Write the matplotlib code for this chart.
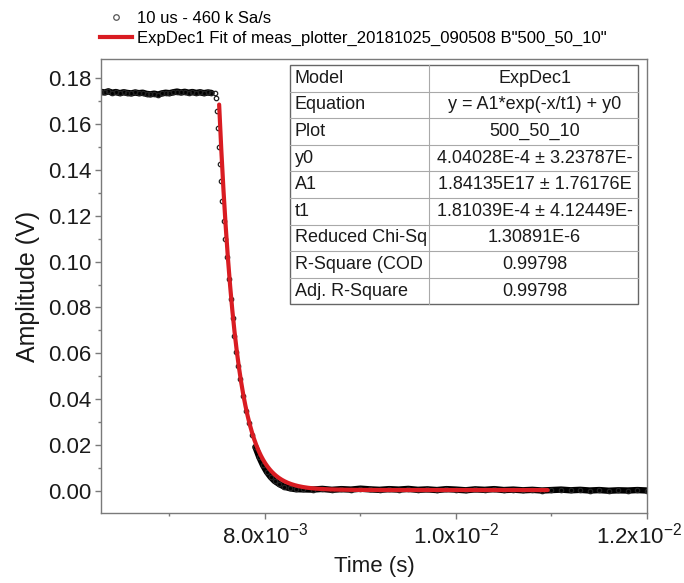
import numpy as np
import matplotlib
matplotlib.use("Agg")
import matplotlib.pyplot as plt
from matplotlib.lines import Line2D
from matplotlib.ticker import FixedLocator, FixedFormatter
from matplotlib.transforms import ScaledTranslation

plt.rcParams["font.family"] = ["Liberation Sans", "DejaVu Sans"]
plt.rcParams["mathtext.fontset"] = "custom"
plt.rcParams["mathtext.rm"] = "Liberation Sans"
plt.rcParams["mathtext.default"] = "regular"

# ---- measured pulse (time in ms, amplitude in V) ----
time_ms = [
    6.28, 6.32, 6.36, 6.40, 6.44, 6.48, 6.52, 6.56, 6.60, 6.64, 6.68, 6.72,
    6.76, 6.80, 6.84, 6.88, 6.92, 6.96, 7.00, 7.04, 7.08, 7.12, 7.16, 7.20,
    7.24, 7.28, 7.32, 7.36, 7.40, 7.44, 7.48,
    7.49, 7.50, 7.51, 7.52, 7.53, 7.54, 7.555, 7.57, 7.585, 7.60, 7.62, 7.64,
    7.66, 7.68, 7.70, 7.72, 7.74, 7.77, 7.80, 7.83, 7.86, 7.90, 7.94, 7.98,
    8.02, 8.06, 8.10, 8.15, 8.20, 8.26, 8.32,
    8.40, 8.50, 8.60, 8.70, 8.80, 8.90, 9.00, 9.10, 9.20, 9.30, 9.40, 9.50,
    9.60, 9.70, 9.80, 9.90, 10.00, 10.10, 10.20, 10.30, 10.40, 10.50, 10.60,
    10.70, 10.80, 10.90, 11.00, 11.10, 11.20, 11.30, 11.40, 11.50, 11.60,
    11.70, 11.80, 11.90, 12.00,
]
amplitude = [
    0.1740, 0.1737, 0.1742, 0.1736, 0.1739, 0.1734, 0.1738, 0.1735, 0.1733,
    0.1737, 0.1734, 0.1736, 0.1731, 0.1729, 0.1732, 0.1728, 0.1733, 0.1736,
    0.1734, 0.1738, 0.1741, 0.1737, 0.1740, 0.1736, 0.1739, 0.1735, 0.1738,
    0.1734, 0.1737, 0.1735, 0.1736,
    0.1712, 0.1655, 0.1582, 0.1498, 0.1425, 0.1352, 0.1262, 0.1175, 0.1098,
    0.1020, 0.0925, 0.0835, 0.0752, 0.0676, 0.0606, 0.0546, 0.0488, 0.0415,
    0.0350, 0.0295, 0.0245, 0.0192, 0.0148, 0.0112, 0.0083, 0.0061, 0.0044,
    0.0030, 0.0019, 0.0012, 0.0008,
    0.0007, 0.0006, 0.0009, 0.0005, 0.0008, 0.0006, 0.0010, 0.0007, 0.0005,
    0.0008, 0.0006, 0.0009, 0.0005, 0.0007, 0.0004, 0.0008, 0.0006, 0.0003,
    0.0007, 0.0005, 0.0008, 0.0004, 0.0006, 0.0003, 0.0005, 0.0002, 0.0004,
    0.0006, 0.0003, 0.0005, 0.0002, 0.0004, 0.0001, 0.0003, 0.0002, 0.0004,
    0.0002,
]

# ---- ExpDec1 fit parameters ----
fit_y0 = 4.04028e-4
fit_A1 = 1.84135e17
fit_t1 = 1.81039e-4
fit_range_s = (7.52e-3, 10.96e-3)

# ---- table content ----
table_keys = ["Model", "Equation", "Plot", "y0", "A1", "t1",
              "Reduced Chi-Sq", "R-Square (COD", "Adj. R-Square"]
table_values = ["ExpDec1", "y = A1*exp(-x/t1) + y0", "500_50_10",
                "4.04028E-4 \u00b1 3.23787E-", "1.84135E17 \u00b1 1.76176E",
                "1.81039E-4 \u00b1 4.12449E-", "1.30891E-6", "0.99798", "0.99798"]

x_major = [8.0e-3, 1.0e-2, 1.2e-2]
x_major_labels = ["8.0x10$^{-3}$", "1.0x10$^{-2}$", "1.2x10$^{-2}$"]
x_minor = [7.0e-3, 9.0e-3, 1.1e-2]
y_major = [0.00, 0.02, 0.04, 0.06, 0.08, 0.10, 0.12, 0.14, 0.16, 0.18]
y_minor = [0.01, 0.03, 0.05, 0.07, 0.09, 0.11, 0.13, 0.15, 0.17]

data_label = "10 us - 460 k Sa/s"
fit_label = 'ExpDec1 Fit of meas_plotter_20181025_090508 B"500_50_10"'

# ---------------------------------------------------------------
W, H = 684, 583
fig = plt.figure(figsize=(W / 100, H / 100), dpi=100)
ax = fig.add_axes([101 / W, 1 - 513 / H, (647 - 101) / W, (513 - 59) / H])

t = np.array(time_ms) * 1e-3
a = np.array(amplitude)

# dense band where the signal is slow, scattered circles on the steep edge
slope = np.abs(np.gradient(a, np.array(time_ms)))
band = np.ma.masked_where(slope > 0.15, a)
ax.plot(t, band, color="black", lw=4.6, solid_capstyle="round", zorder=2)
ax.plot(t, a, linestyle="none", marker="o", ms=3.2, mfc="none",
        mec="#222222", mew=0.9, zorder=2)

tf = np.linspace(fit_range_s[0], fit_range_s[1], 600)
yf = fit_A1 * np.exp(-tf / fit_t1) + fit_y0
ax.plot(tf, yf, color="#d91c22", lw=3.0, zorder=3, solid_capstyle="round")

ax.set_xlim(6.283e-3, 12.0e-3)
ax.set_ylim(-0.0096, 0.1883)

ax.xaxis.set_major_locator(FixedLocator(x_major))
ax.xaxis.set_major_formatter(FixedFormatter(x_major_labels))
ax.xaxis.set_minor_locator(FixedLocator(x_minor))
ax.yaxis.set_major_locator(FixedLocator(y_major))
ax.yaxis.set_major_formatter(FixedFormatter([f"{v:.2f}" for v in y_major]))
ax.yaxis.set_minor_locator(FixedLocator(y_minor))

spine_col = "#7a7a7a"
for s in ax.spines.values():
    s.set_color(spine_col)
    s.set_linewidth(1.0)
ax.tick_params(which="major", direction="out", length=4, width=1.0,
               color=spine_col, labelsize=16, labelcolor="#1a1a1a", pad=3)
ax.tick_params(which="minor", direction="out", length=2.5, width=1.0,
               color=spine_col)
ax.tick_params(top=False, right=False)

ax.set_xlabel("Time (s)", fontsize=16, color="#1a1a1a", labelpad=5)
ax.set_ylabel("Amplitude (V)", fontsize=18, color="#1a1a1a", labelpad=6)

# legend above the frame
handles = [
    Line2D([], [], linestyle="none", marker="o", ms=4, mfc="none",
           mec="#555555", mew=0.9),
    Line2D([], [], color="#d91c22", lw=3.0),
]
fig.legend(handles, [data_label, fit_label], loc="upper left",
           bbox_to_anchor=(100 / W, 1 - 11 / H), bbox_transform=fig.transFigure,
           frameon=False, fontsize=12, handlelength=1.9, handletextpad=0.3,
           labelspacing=0.3, borderpad=0, borderaxespad=0)

# fit results table
tx0, tx1, tx2 = 290, 429, 638
ty0, row_h = 65, 26.6
n = len(table_keys)
ty1 = ty0 + n * row_h


def fx(px):
    return px / W


def fy(py):
    return 1 - py / H


fig.patches.append(plt.Rectangle((fx(tx0), fy(ty1)), fx(tx2) - fx(tx0),
                                 fy(ty0) - fy(ty1), transform=fig.transFigure,
                                 facecolor="white", edgecolor="#666666",
                                 lw=1.0, zorder=4))
inner = "#a9a9a9"
for i in range(1, n):
    yy = fy(ty0 + i * row_h)
    fig.add_artist(Line2D([fx(tx0), fx(tx2)], [yy, yy], color=inner, lw=0.8,
                          transform=fig.transFigure, zorder=5))
fig.add_artist(Line2D([fx(tx1), fx(tx1)], [fy(ty0), fy(ty1)], color=inner,
                      lw=0.8, transform=fig.transFigure, zorder=5))
for i, (k, v) in enumerate(zip(table_keys, table_values)):
    yc = fy(ty0 + (i + 0.5) * row_h)
    fig.text(fx(tx0 + 5), yc, k, ha="left", va="center", fontsize=13,
             color="#1a1a1a", zorder=6)
    fig.text(fx((tx1 + tx2) / 2 + 1), yc, v, ha="center", va="center",
             fontsize=13, color="#1a1a1a", zorder=6)

# keep the last x tick label inside the canvas
fig.canvas.draw()
last = ax.xaxis.get_major_ticks()[-1].label1
last.set_transform(last.get_transform()
                   + ScaledTranslation(-8 / 100, 0, fig.dpi_scale_trans))

fig.savefig("out.png", dpi=100, facecolor="white")
